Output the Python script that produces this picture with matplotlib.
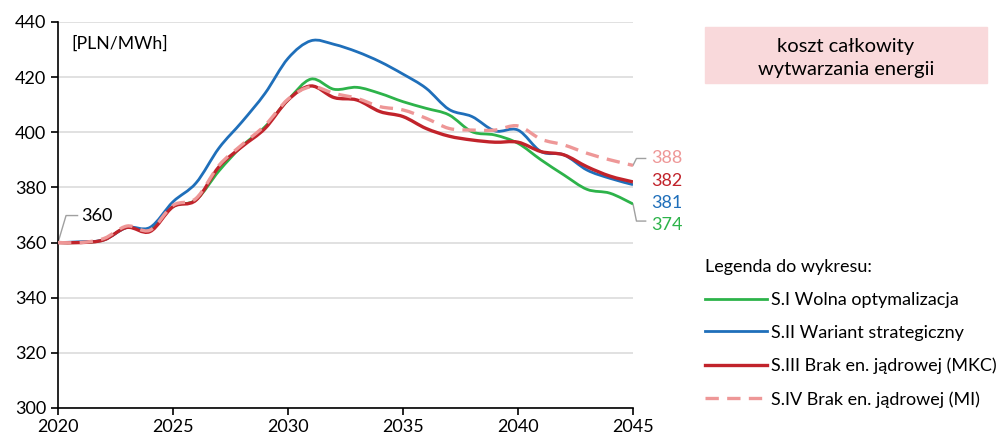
import matplotlib.pyplot as plt
from matplotlib.patches import Rectangle, PathPatch
from matplotlib.path import Path
from matplotlib.lines import Line2D

plt.rcParams["font.family"] = ["Lato", "DejaVu Sans"]

years = list(range(2020, 2046))

s1 = [360, 360, 361, 365.5, 364.5, 373, 375.5, 386, 395, 402, 411.7, 419.3, 415.6,
      416.3, 414.1, 411.1, 408.7, 406.3, 400.2, 399, 396, 390, 384.5, 379.3, 377.9, 374]
s2 = [360, 360.3, 361, 365.5, 365.5, 374.8, 381.6, 394.3, 403.8, 414.1, 426.8, 433.2, 431.9,
      429.2, 425.6, 421.1, 416, 408.3, 405.7, 400.5, 400.8, 393, 391.8, 386.3, 383.3, 381]
s3 = [360, 360, 361, 365.5, 364, 373, 375.4, 387.5, 394.8, 401.4, 411.7, 416.8, 412.6,
      411.7, 407.5, 405.7, 401.4, 398.6, 397.2, 396.4, 396.4, 393, 391.8, 387.5, 384.1, 382]
s4 = [360, 360, 361.5, 366, 364.5, 373.5, 376, 388, 395.5, 402.5, 412, 416.5, 414.1,
      412.3, 409.3, 408.1, 405.1, 401.4, 400.8, 400.8, 402.3, 397.5, 395.4, 392.4, 390, 388]

labels = ["S.I Wolna optymalizacja", "S.II Wariant strategiczny",
          "S.III Brak en. jądrowej (MKC)", "S.IV Brak en. jądrowej (MI)"]
end_labels = ["374", "381", "382", "388"]

green = "#2DB34A"
blue = "#1F6FBA"
red = "#C1232B"
pink = "#EE9797"


def smooth_path(x, y, t=1 / 6):
    # smoothed curve like Excel: bezier through every data point
    verts = [(x[0], y[0])]
    codes = [Path.MOVETO]
    n = len(x)
    for i in range(n - 1):
        x0, y0 = (x[i - 1], y[i - 1]) if i > 0 else (x[i], y[i])
        x3, y3 = (x[i + 2], y[i + 2]) if i + 2 < n else (x[i + 1], y[i + 1])
        c1 = (x[i] + (x[i + 1] - x0) * t, y[i] + (y[i + 1] - y0) * t)
        c2 = (x[i + 1] - (x3 - x[i]) * t, y[i + 1] - (y3 - y[i]) * t)
        verts += [c1, c2, (x[i + 1], y[i + 1])]
        codes += [Path.CURVE4] * 3
    return Path(verts, codes)


fig = plt.figure(figsize=(9.99, 4.41), dpi=100)
ax = fig.add_axes([58 / 999, 1 - 408 / 441, 575 / 999, 386 / 441])

styles = [
    (s1, green, 2.0, "-", 3),
    (s2, blue, 2.0, "-", 4),
    (s3, red, 2.4, "-", 5),
    (s4, pink, 2.4, (0, (4, 2.5)), 6),
]
handles = []
for (vals, col, lw, ls, z), lab in zip(styles, labels):
    ax.add_patch(PathPatch(smooth_path(years, vals), fill=False, edgecolor=col, lw=lw,
                           ls=ls, zorder=z, capstyle="butt"))
    handles.append(Line2D([], [], color=col, lw=lw, ls=ls, label=lab))

ax.set_xlim(2020, 2045)
ax.set_ylim(300, 440)
ax.set_xticks(range(2020, 2046, 5))
ax.set_yticks(range(300, 441, 20))
ax.grid(axis="y", color="#DCDCDC", lw=1.2)
ax.set_axisbelow(True)
for s in ["top", "right"]:
    ax.spines[s].set_visible(False)
for s in ["left", "bottom"]:
    ax.spines[s].set_color("black")
    ax.spines[s].set_linewidth(1.2)
ax.tick_params(axis="both", direction="out", length=5, width=1.2, labelsize=13,
               colors="black")
ax.tick_params(axis="x", pad=3)

ax.text(2020.6, 432, "[PLN/MWh]", fontsize=12.7, va="center", ha="left")

# start label
ax.plot([2020, 2020.35, 2020.85], [s1[0], 369.8, 369.8], color="#A0A0A0", lw=1, clip_on=False)
ax.text(2021.0, 369.8, "360", fontsize=13, va="center", ha="left")

# end labels with leaders
xe = 2045
ax.plot([xe, xe + 0.15, xe + 0.55], [s4[-1], 390.5, 390.5], color="#A0A0A0", lw=1, clip_on=False)
ax.plot([xe, xe + 0.15, xe + 0.55], [s1[-1], 367.8, 367.8], color="#A0A0A0", lw=1, clip_on=False)
ax.text(xe + 0.8, 390.5, end_labels[3], color=pink, fontsize=13, va="center", ha="left")
ax.text(xe + 0.8, 382.2, end_labels[2], color=red, fontsize=13, va="center", ha="left")
ax.text(xe + 0.8, 374.2, end_labels[1], color=blue, fontsize=13, va="center", ha="left")
ax.text(xe + 0.8, 366.2, end_labels[0], color=green, fontsize=13, va="center", ha="left")

# title box
fig.patches.append(Rectangle((705 / 999, 1 - 83 / 441), 282 / 999, 56 / 441,
                             transform=fig.transFigure, color="#F9D9DB", zorder=0))
fig.text(846 / 999, 1 - 58 / 441, "koszt całkowity\nwytwarzania energii", fontsize=14.5,
         ha="center", va="center", linespacing=1.45)

leg = fig.legend(handles=handles, loc="upper left", bbox_to_anchor=(698 / 999, 1 - 252 / 441),
                 frameon=False, title="Legenda do wykresu:", fontsize=13, title_fontsize=13,
                 handlelength=3.4, handletextpad=0.25, labelspacing=0.93, borderaxespad=0)
leg._legend_box.align = "left"

fig.savefig("out.png", dpi=100)
